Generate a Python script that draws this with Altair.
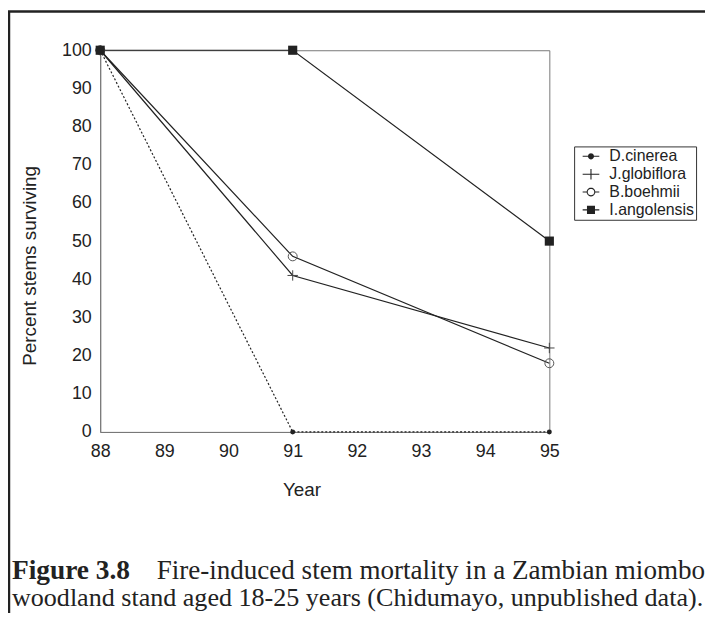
import math
import altair as alt
import pandas as pd

# ---- data ----
years = [88, 91, 95]
species = ["D.cinerea", "J.globiflora", "B.boehmii", "I.angolensis"]
d_cinerea = [100, 0, 0]
j_globiflora = [100, 41, 22]
b_boehmii = [100, 46, 18]
i_angolensis = [100, 100, 50]
x_ticks = [88, 89, 90, 91, 92, 93, 94, 95]
y_ticks = [0, 10, 20, 30, 40, 50, 60, 70, 80, 90, 100]
x_title = "Year"
y_title = "Percent stems surviving"
caption_bold = "Figure 3.8"
caption_line1 = "Fire-induced stem mortality in a Zambian miombo"
caption_line2 = "woodland stand aged 18-25 years (Chidumayo, unpublished data)."

rows = []
for name, vals in zip(species, [d_cinerea, j_globiflora, b_boehmii, i_angolensis]):
    for yr, v in zip(years, vals):
        rows.append({"Year": yr, "Survival": v, "Species": name})
df = pd.DataFrame(rows)

W, H = 453, 385
SANS = "Liberation Sans"
SERIF = "Liberation Serif"
INK = "#222"

x_enc = alt.X(
    "Year:Q",
    scale=alt.Scale(domain=[88, 95], nice=False, zero=False),
    axis=alt.Axis(values=x_ticks, title=x_title, labelPadding=11, labelFlush=False,
                  titleX=203, titleY=58.5, titleBaseline="middle", titleAlign="center"),
)
y_enc = alt.Y(
    "Survival:Q",
    scale=alt.Scale(domain=[0, 100], nice=False),
    axis=alt.Axis(values=y_ticks, title=y_title, labelPadding=9, labelFlush=False,
                  titleX=-71, titleY=217, titleAngle=270,
                  titleBaseline="middle", titleAlign="center"),
)

base = alt.Chart(df).encode(x=x_enc, y=y_enc)

line_dotted = base.transform_filter(alt.datum.Species == "D.cinerea").mark_line(
    color=INK, strokeWidth=1.2, strokeDash=[2, 2])
line_solid = base.transform_filter(alt.datum.Species != "D.cinerea").mark_line(
    color=INK, strokeWidth=1.2).encode(detail="Species:N")

pt_d = base.transform_filter(alt.datum.Species == "D.cinerea").mark_point(
    shape="circle", filled=True, size=25, color=INK, opacity=1)
pt_j = base.transform_filter(alt.datum.Species == "J.globiflora").mark_point(
    shape="M-1,0H1M0,-1V1", filled=False, size=110, color="#444", strokeWidth=1, opacity=1)
pt_b = base.transform_filter(alt.datum.Species == "B.boehmii").mark_point(
    shape="circle", filled=False, size=81, color="#555", strokeWidth=1, opacity=1)
pt_i = base.transform_filter(alt.datum.Species == "I.angolensis").mark_point(
    shape="square", filled=True, size=85, color=INK, opacity=1)


# legend symbol shapes (line segment + marker) drawn with strokes only;
# solid markers are built from concentric outlines
def ring(r, n=20):
    pts = []
    for i in range(n):
        a = 2 * math.pi * i / n
        pts.append(f"{r * math.cos(a):.3f},{r * math.sin(a):.3f}")
    return "M" + "L".join(pts) + "Z"


def sq(h):
    return f"M{-h},{-h}L{h},{-h}L{h},{h}L{-h},{h}Z"


legend_paths = [
    "M-1.2,0L1.2,0" + ring(0.36) + ring(0.22) + ring(0.09),
    "M-1.2,0L1.2,0M0,-0.75L0,0.75",
    "M-1.2,0L-0.55,0M0.55,0L1.2,0" + ring(0.55),
    "M-1.2,0L1.2,0" + sq(0.5) + sq(0.37) + sq(0.24) + sq(0.11),
]
legend_df = pd.DataFrame({"Species": species})
leg = alt.Chart(legend_df).mark_point(
    filled=False, color=INK, strokeWidth=1, opacity=0
).encode(
    shape=alt.Shape(
        "Species:N",
        scale=alt.Scale(domain=species, range=legend_paths),
        legend=alt.Legend(
            title=None, orient="none", legendX=478, legendY=97,
            strokeColor="#333", padding=2, symbolSize=196,
            symbolStrokeColor=INK, symbolStrokeWidth=1.1,
            symbolOpacity=1, symbolOffset=7,
            labelFont=SANS, labelFontSize=16, labelColor=INK, labelOffset=10.5,
            rowPadding=2,
        ),
    ),
)

one = alt.Data(values=[{"k": 1}])
frame_left = alt.Chart(one).mark_rule(color=INK, strokeWidth=2.5).encode(
    x=alt.value(-92), y=alt.value(-39), y2=alt.value(H + 250))
frame_top = alt.Chart(one).mark_rule(color=INK, strokeWidth=2.5).encode(
    x=alt.value(-93), x2=alt.value(W + 250), y=alt.value(-39))

cap_b = alt.Chart(one).mark_text(
    text=caption_bold, font=SERIF, fontSize=27.6, fontWeight="bold",
    align="left", baseline="alphabetic", color=INK,
).encode(x=alt.value(-89), y=alt.value(533))
cap_1 = alt.Chart(one).mark_text(
    text=caption_line1, font=SERIF, fontSize=27.3,
    align="right", baseline="alphabetic", color=INK,
).encode(x=alt.value(610), y=alt.value(533))
cap_2 = alt.Chart(one).mark_text(
    text=caption_line2, font=SERIF, fontSize=26.3,
    align="left", baseline="alphabetic", color=INK,
).encode(x=alt.value(-89), y=alt.value(561))

chart = alt.layer(
    line_dotted, line_solid, pt_d, pt_j, pt_b, pt_i, leg,
    frame_left, frame_top, cap_b, cap_1, cap_2
).properties(
    width=W, height=H,
    padding={"left": 93, "top": 40, "right": 157, "bottom": 180},
    autosize=alt.AutoSizeParams(type="none"),
    background="white",
).configure_view(
    stroke="#777", strokeWidth=1,
).configure_axis(
    domainColor="#777", domainWidth=1, ticks=False, grid=False,
    labelFont=SANS, labelFontSize=18, labelColor=INK,
    titleFont=SANS, titleFontSize=19, titleFontWeight="normal", titleColor=INK,
)

chart.save("out.html", embed_options={"renderer": "svg", "actions": False})
